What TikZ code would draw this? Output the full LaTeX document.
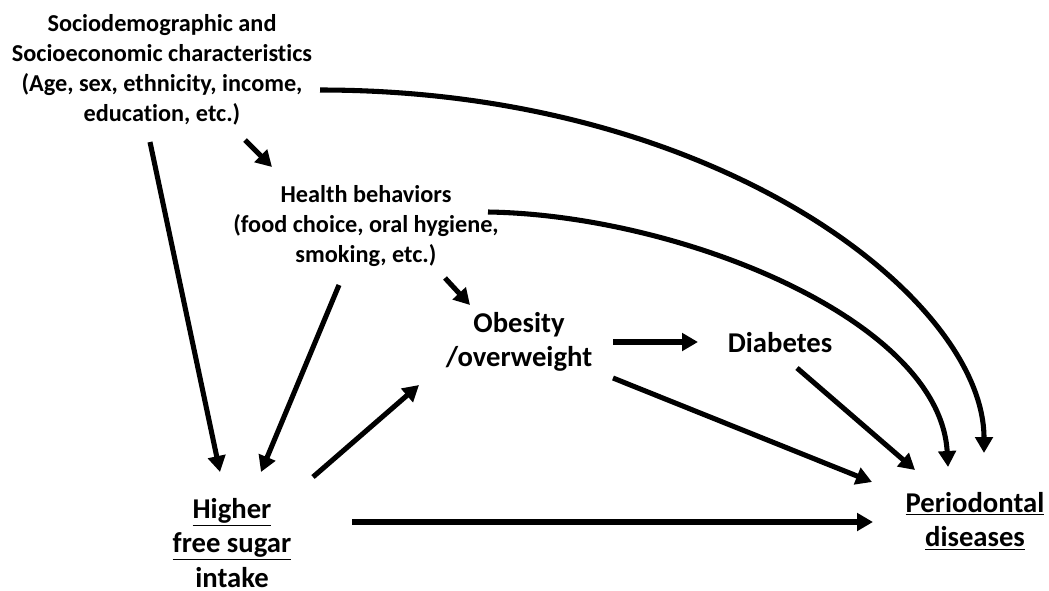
\documentclass[tikz,border=0pt]{standalone}
\usepackage{fontspec}
\setmainfont[Ligatures=NoCommon]{Carlito}
\usetikzlibrary{arrows.meta,calc}

\begin{document}
\begin{tikzpicture}[x=0.75pt,y=-0.75pt,
	small/.style={align=center,font=\fontsize{18.2}{22.5}\selectfont\bfseries},
	big/.style={align=center,font=\fontsize{21.5}{26}\selectfont\bfseries},
	arr/.style={line width=3.8pt,-{Triangle[length=12pt,width=13pt]}}]
\useasboundingbox (0,0) rectangle (1049,590);
% factors
\node[small] (socio) at (162,70) {Sociodemographic and\\Socioeconomic characteristics\\(Age, sex, ethnicity, income,\\education, etc.)};
\node[small] (health) at (366,226) {Health behaviors\\(food choice, oral hygiene,\\smoking, etc.)};
\node[big] (obesity) at (519,342) {Obesity\\/overweight};
\node[big] (diabetes) at (780,343) {Diabetes};
\node[big] (sugar) at (232,543) {\underline{Higher}\\\underline{free sugar}\\intake};
\node[big] (perio) at (975,521) {\underline{Periodontal}\\\underline{diseases}};
% paths
\draw[arr] ($(socio)+(-12,72)$) -- ($(sugar)+(-12,-71)$);
\draw[arr] ($(socio)+(83,70)$) -- ($(health)+(-94,-59)$);
\draw[arr] ($(socio)+(158,20)$) .. controls +(400,0) and +(0,-153) .. ($(perio)+(9,-68)$);
\draw[arr] ($(health)+(-27,59)$) -- ($(sugar)+(29,-71)$);
\draw[arr] ($(health)+(79,52)$) -- ($(obesity)+(-49,-37)$);
\draw[arr] ($(health)+(122,-14)$) .. controls +(192,3) and +(-8,-147) .. ($(perio)+(-27,-54)$);
\draw[arr] ($(sugar)+(81,-66)$) -- ($(obesity)+(-100,43)$);
\draw[arr] ($(sugar)+(120,-21)$) -- ($(perio)+(-102,1)$);
\draw[arr] ($(obesity)+(94,0)$) -- ($(diabetes)+(-82,-1)$);
\draw[arr] ($(obesity)+(94,36)$) -- ($(perio)+(-103,-39)$);
\draw[arr] ($(diabetes)+(17,25)$) -- ($(perio)+(-60,-51)$);
\end{tikzpicture}
\end{document}
